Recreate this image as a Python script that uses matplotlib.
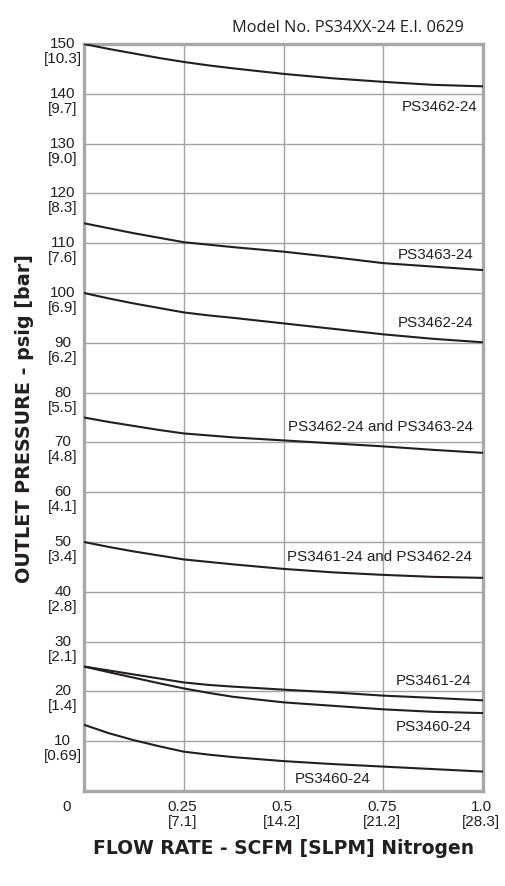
import matplotlib
matplotlib.use("Agg")
import matplotlib.pyplot as plt
import matplotlib.transforms as mtransforms

# ---- data ----
flow = [0, 0.0625, 0.125, 0.1875, 0.25, 0.3125, 0.375, 0.5, 0.625, 0.75, 0.875, 1.0]
c_3462_150 = [150, 149.0, 148.1, 147.2, 146.4, 145.7, 145.1, 144.0, 143.1, 142.4, 141.8, 141.5]
c_3463_114 = [114.0, 113.0, 112.0, 111.1, 110.2, 109.7, 109.2, 108.3, 107.2, 106.0, 105.3, 104.6]
c_3462_100 = [100, 98.9, 97.9, 97.0, 96.1, 95.5, 95.0, 93.9, 92.8, 91.7, 90.8, 90.1]
c_both_75 = [75, 74.1, 73.3, 72.5, 71.8, 71.4, 71.0, 70.4, 69.8, 69.2, 68.5, 67.9]
c_both_50 = [50, 49.0, 48.1, 47.3, 46.5, 46.0, 45.5, 44.6, 43.9, 43.4, 43.0, 42.8]
c_3461_25 = [25, 24.2, 23.4, 22.6, 21.8, 21.3, 20.95, 20.35, 19.8, 19.15, 18.7, 18.2]
c_3460_25 = [25, 23.85, 22.75, 21.65, 20.6, 19.7, 18.9, 17.8, 17.1, 16.4, 15.9, 15.65]
c_3460_13 = [13.3, 11.6, 10.2, 9.0, 7.9, 7.3, 6.8, 6.0, 5.4, 4.9, 4.4, 3.9]
series = [c_3462_150, c_3463_114, c_3462_100, c_both_75, c_both_50,
          c_3461_25, c_3460_25, c_3460_13]

curve_labels = ["PS3462-24", "PS3463-24", "PS3462-24", "PS3462-24 and PS3463-24",
                "PS3461-24 and PS3462-24", "PS3461-24", "PS3460-24", "PS3460-24"]
label_x = [0.985, 0.975, 0.975, 0.975, 0.972, 0.972, 0.972, 0.6225]
label_y = [137.3, 107.6, 93.9, 73.0, 47.0, 22.1, 12.9, 2.4]
label_ha = ["right", "right", "right", "right", "right", "right", "right", "center"]

y_ticks = [10, 20, 30, 40, 50, 60, 70, 80, 90, 100, 110, 120, 130, 140, 150]
y_bar = ["0.69", "1.4", "2.1", "2.8", "3.4", "4.1", "4.8", "5.5", "6.2", "6.9",
         "7.6", "8.3", "9.0", "9.7", "10.3"]
x_ticks = [0.25, 0.5, 0.75, 1.0]
x_tick_text = ["0.25", "0.5", "0.75", "1.0"]
x_slpm = ["7.1", "14.2", "21.2", "28.3"]

W, H = 506, 886
fig = plt.figure(figsize=(W / 100, H / 100), dpi=100)
L, R, T, B = 84, 483, 44, 791
ax = fig.add_axes([L / W, (H - B) / H, (R - L) / W, (B - T) / H])
ax.set_xlim(0, 1.0)
ax.set_ylim(0, 150)

txt = "#231f20"
grid_c = "#a3a3a3"
font = ["Liberation Sans", "DejaVu Sans"]

for v in x_ticks[:-1]:
    ax.axvline(v, color=grid_c, lw=1.0, zorder=1)
for v in y_ticks[:-1]:
    ax.axhline(v, color=grid_c, lw=1.0, zorder=1)

for s in series:
    ax.plot(flow, s, color=txt, lw=1.5, zorder=3, solid_capstyle="butt",
            solid_joinstyle="round")

for t, x, y, ha in zip(curve_labels, label_x, label_y, label_ha):
    ax.text(x, y, t, ha=ha, va="center", fontsize=10.9, color=txt, family=font, zorder=4)

for sp in ax.spines.values():
    sp.set_color("#a8a8a8")
    sp.set_linewidth(2.4)
ax.set_xticks([])
ax.set_yticks([])

# y tick labels (two lines, first line centred on gridline)
ytr = mtransforms.blended_transform_factory(fig.transFigure, ax.transData)
for v, b in zip(y_ticks, y_bar):
    ax.text(62.7 / W, v, f"{v}", transform=ytr, ha="center", va="center",
            fontsize=11, color=txt, family=font)
    ax.annotate(f"[{b}]", xy=(62.7 / W, v), xycoords=ytr, xytext=(0, -15),
                textcoords="offset pixels", ha="center", va="center",
                fontsize=11, color=txt, family=font, annotation_clip=False)

xtr = mtransforms.blended_transform_factory(ax.transData, fig.transFigure)
for v, t, s in zip(x_ticks, x_tick_text, x_slpm):
    ax.text(v - 0.003, (H - 807) / H, t, transform=xtr, ha="center", va="center",
            fontsize=11, color=txt, family=font)
    ax.text(v - 0.004, (H - 822) / H, f"[{s}]", transform=xtr, ha="center", va="center",
            fontsize=11, color=txt, family=font)
fig.text(67 / W, (H - 807) / H, "0", ha="center", va="center", fontsize=11,
         color=txt, family=font)

fig.text(464 / W, (H - 28) / H, "Model No. PS34XX-24 E.I. 0629", ha="right",
         va="center", fontsize=11.8, color=txt, family=["Open Sans", "DejaVu Sans"])

xl = fig.text(284 / W, (H - 848) / H, "FLOW RATE - SCFM [SLPM] Nitrogen", ha="center",
              va="center", fontsize=14, fontweight="bold", color=txt,
              family=["DejaVu Sans"])
yl = fig.text(25 / W, (H - 418.5) / H, "OUTLET PRESSURE - psig [bar]", ha="center",
              va="center", rotation=90, fontsize=14, fontweight="bold", color=txt,
              family=["DejaVu Sans"])

# fit label sizes to the reference extents
renderer = fig.canvas.get_renderer()
w = xl.get_window_extent(renderer).width
xl.set_fontsize(14 * 382 / w)
h = yl.get_window_extent(renderer).height
yl.set_fontsize(14 * 329 / h)

fig.savefig("out.png", dpi=100)
